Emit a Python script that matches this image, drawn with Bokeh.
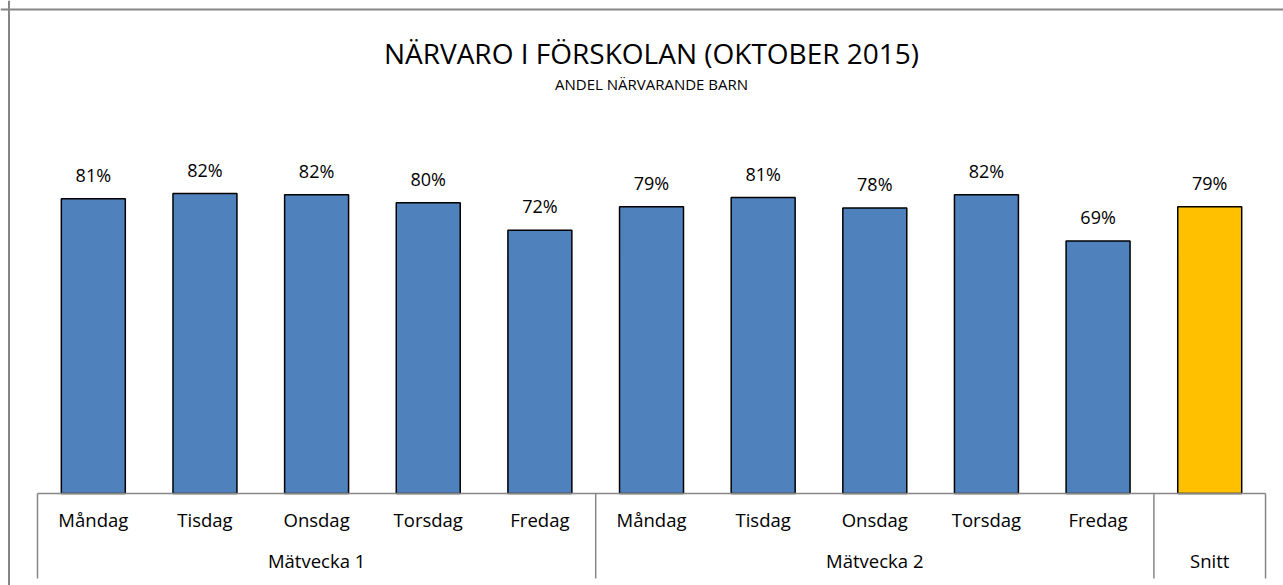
from bokeh.plotting import figure
from bokeh.models import Range1d, Span, Label, ColumnDataSource
from bokeh.core.properties import value
from bokeh.embed import file_html
from bokeh.resources import INLINE

# ---- data ----
days = ["Måndag", "Tisdag", "Onsdag", "Torsdag", "Fredag",
        "Måndag", "Tisdag", "Onsdag", "Torsdag", "Fredag", ""]
groups = ["Mätvecka 1", "Mätvecka 2", "Snitt"]
group_sizes = [5, 5, 1]
values = [0.810, 0.824, 0.821, 0.799, 0.723,
          0.788, 0.813, 0.784, 0.821, 0.694, 0.788]
bar_colors = ["#4F81BD"] * 10 + ["#FFC000"]
title_text = "NÄRVARO I FÖRSKOLAN (OKTOBER 2015)"
subtitle_text = "ANDEL NÄRVARANDE BARN"

# ---- layout (pixels inside the canvas) ----
W, H = 1283, 585
slot = 111.64          # pixels per category
x0_px = 37             # left end of category axis
base_px = 493          # y pixel of zero line
unit_px = 364          # pixels per 1.0 (100 %)

def xd(px):
    return (px - x0_px) / slot - 0.5

def yd(py):
    return (base_px - py) / unit_px

FONT = value("Open Sans")

p = figure(width=W, height=H, output_backend="svg", toolbar_location=None,
           x_range=Range1d(xd(0), xd(W)), y_range=Range1d(yd(H), yd(0)),
           min_border=0, min_border_left=0, min_border_right=0,
           min_border_top=0, min_border_bottom=0)
p.axis.visible = False
p.grid.visible = False
p.outline_line_color = None
p.background_fill_color = "white"
p.border_fill_color = "white"

n = len(values)
xs = list(range(n))
labels = [f"{round(v * 100):d}%" for v in values]
src = ColumnDataSource(dict(x=xs, top=values, color=bar_colors, lab=labels, day=days))

p.vbar(x="x", top="top", bottom=0, width=0.573, source=src,
       fill_color="color", line_color="black", line_width=1.5)

p.text(x="x", y="top", text="lab", source=src, text_align="center",
       text_baseline="middle", y_offset=-24, text_font=FONT,
       text_font_size="18px", text_color="black")

# category axis (Excel-like multi-level)
p.segment(x0=[-0.5], y0=[0], x1=[n - 0.5], y1=[0], line_color="#868686", line_width=1.5)
bounds = [-0.5]
for s in group_sizes:
    bounds.append(bounds[-1] + s)
p.segment(x0=bounds, y0=[0] * len(bounds), x1=bounds, y1=[yd(578)] * len(bounds),
          line_color="#868686", line_width=1.5)

p.text(x="x", y=yd(519), text="day", source=src, text_align="center",
       text_baseline="middle", text_font=FONT, text_font_size="18.5px", text_color="black")
gx = [(bounds[i] + bounds[i + 1]) / 2 for i in range(len(groups))]
p.text(x=gx, y=[yd(560)] * len(groups), text=groups, text_align="center",
       text_baseline="middle", text_font=FONT, text_font_size="18.5px", text_color="black")

# titles
p.add_layout(Label(x=xd(651), y=yd(52), text=title_text, text_align="center",
                   text_baseline="middle", text_font="Open Sans", text_font_size="28px",
                   text_color="black"))
p.add_layout(Label(x=xd(651), y=yd(83), text=subtitle_text, text_align="center",
                   text_baseline="middle", text_font="Open Sans", text_font_size="15px",
                   text_color="black"))

# chart border (top and left visible)
p.add_layout(Span(location=yd(9), dimension="width", line_color="#868686", line_width=2))
p.add_layout(Span(location=xd(8.5), dimension="height", line_color="#868686", line_width=2))

open("out.html", "w").write(file_html(p, INLINE))
